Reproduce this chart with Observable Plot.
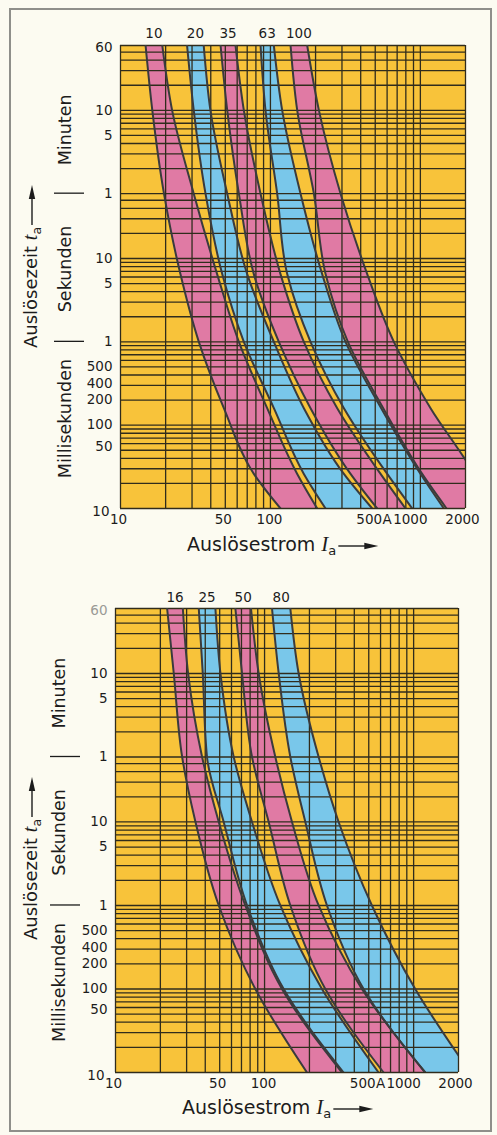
<!DOCTYPE html>
<html><head><meta charset="utf-8">
<script src="https://cdn.jsdelivr.net/npm/d3@7"></script>
<script src="https://cdn.jsdelivr.net/npm/@observablehq/plot@0.6"></script>
<style>
html,body{margin:0;padding:0;background:#fcfbf1;}
#page{position:relative;width:497px;height:1135px;overflow:hidden;background:#fcfbf1;}
#frame{position:absolute;left:9px;top:8px;width:479px;height:1120px;border:2px solid #8f8f8a;}
#p1{position:absolute;left:0;top:0;}
#p2{position:absolute;left:0;top:575px;}
svg{display:block;}
</style></head>
<body><div id="page"><div id="frame"></div><div id="p1"></div><div id="p2"></div></div>
<script>
// ---------- data ----------
const xGrid = [10,20,30,40,50,60,70,80,90,100,200,300,400,500,600,700,800,900,1000,2000];
const yGrid = [0.01,0.02,0.03,0.04,0.05,0.06,0.07,0.08,0.09,0.1,0.2,0.3,0.4,0.5,0.6,0.7,0.8,0.9,
  1,2,3,4,5,6,7,8,9,10,20,30,40,50,60,120,180,240,300,360,420,480,540,600,1200,1800,2400,3000,3600];

const xTickValues = [10, 50, 100, 500, 1000, 2000];
const xTickLabels = ["10", "50", "100", "500", "1000", "2000"];
const yTickValues = [3600, 600, 300, 60, 10, 5, 1, 0.5, 0.4, 0.2, 0.1, 0.05, 0.01];
const yTickLabels = ["60", "10", "5", "1", "10", "5", "1", "500", "400", "200", "100", "50", "10"];
const sectionNames = ["Minuten", "Sekunden", "Millisekunden"];
const sectionCenters = [350, 7.5, 0.12];
const sectionBounds = [60, 1];

// top panel: trip time levels (s) and band edges (A)
const tTop = [3600, 600, 60, 6.5, 1, 0.16, 0.026, 0.01];
const top10Lo  = [14.7, 16.3, 19.5, 25.1, 33.3, 48.9, 77.5, 116.7];
const top10Hi  = [19.0, 22.1, 30.8, 44.1, 61.6, 95.1, 150.9, 205.2];
const top20Lo  = [27.8, 30.8, 36.9, 47.7, 66.5, 105.4, 167.1, 233.2];
const top20Hi  = [35.9, 39.8, 51.5, 70.0, 105.4, 167.1, 309.0, 477.4];
const top35Lo  = [46.5, 51.5, 61.6, 77.5, 113.8, 185.1, 342.3, 515.3];
const top35Hi  = [58.5, 66.5, 85.9, 116.7, 167.1, 278.9, 542.6, 796.6];
const top63Lo  = [85.9, 92.7, 110.9, 129.4, 185.1, 309.0, 601.1, 882.5];
const top63Hi  = [105.4, 119.8, 158.8, 221.4, 316.9, 548, 1003, 1436];
const top100Lo = [136.2, 150.9, 194.9, 233.2, 328.6, 565.3, 1028, 1495];
const top100Hi = [175.9, 210.6, 293.6, 442.2, 666.0, 1169.5, 2276, 2940];
const topRatings = ["10", "20", "35", "63", "100"];

// bottom panel
const tBot = [3600, 600, 60, 10, 1, 0.1, 0.01];
const bot16Lo = [22.2, 24.6, 28.0, 34.4, 49.3, 86.7, 192.6];
const bot16Hi = [28.3, 30.7, 38.1, 49.3, 74.3, 130.9, 330.4];
const bot25Lo = [36.2, 38.5, 41.1, 53.2, 76.3, 134.4, 339];
const bot25Hi = [46.8, 50.6, 62.1, 82.4, 127.6, 242.7, 582];
const bot50Lo = [63.7, 70.6, 82.4, 106.6, 148.9, 255.6, 628.6];
const bot50Hi = [81.1, 91.3, 118.1, 152.8, 230.6, 450, 1196];
const bot80Lo = [112.2, 124.4, 148.9, 187.7, 262.2, 461.7, 1196];
const bot80Hi = [148.9, 169.3, 230.6, 314, 525, 1025, 2395];
const botRatings = ["16", "25", "50", "80"];

// ---------- style ----------
const PINK = "#e07aa4", BLUE = "#79c7ea", YELLOW = "#f8c33a";
const GRID = "#302c1c", EDGE = "#3a3b3d", TEXT = "#1c1c1c";
const FONT = "DejaVu Sans", SERIF = "Liberation Serif";

const xTicks = xTickValues.map((v, i) => ({v, label: xTickLabels[i]}));
const yTicks = yTickValues.map((v, i) => ({v, label: yTickLabels[i]}));
const sections = sectionNames.map((name, i) => ({name, t: sectionCenters[i]}));

function rows(ts, lo, hi) { return ts.map((t, i) => ({t, lo: lo[i], hi: hi[i]})); }

function makePanel(o) {
  const bands = o.bands;
  const marks = [Plot.frame({fill: YELLOW, stroke: null})];
  for (const b of bands) marks.push(Plot.areaX(rows(o.ts, b.lo, b.hi), {y: "t", x1: "lo", x2: "hi", fill: b.color, curve: "monotone-y", clip: true}));
  marks.push(Plot.ruleX(xGrid, {stroke: GRID, strokeWidth: 1.3}));
  marks.push(Plot.ruleY(yGrid, {stroke: GRID, strokeWidth: 1.3}));
  for (const b of bands) {
    const r = rows(o.ts, b.lo, b.hi);
    marks.push(Plot.lineX(r, {y: "t", x: "lo", curve: "monotone-y", stroke: EDGE, strokeWidth: 2, clip: true}));
    marks.push(Plot.lineX(r, {y: "t", x: "hi", curve: "monotone-y", stroke: EDGE, strokeWidth: 2, clip: true}));
  }
  const tx = {fontFamily: FONT, fill: TEXT, fontSize: 13.5};
  // band rating labels
  marks.push(Plot.text(bands, {x: b => Math.sqrt(b.lo[0] * b.hi[0]), y: o.ts[0], text: "label", dy: o.labelDy, ...tx, fontSize: 13.5}));
  // y tick labels
  const yNormal = yTicks.filter(d => d.v !== 0.4 && d.v !== 0.01 && d.v !== 0.05 && d.v !== 3600);
  marks.push(Plot.text(yNormal, {y: "v", text: "label", frameAnchor: "left", dx: -8, textAnchor: "end", ...tx}));
  marks.push(Plot.text(yTicks.filter(d => d.v === 3600), {y: "v", text: "label", frameAnchor: "left", dx: -8, dy: 2, textAnchor: "end", ...tx, fill: o.sixtyColor}));
  marks.push(Plot.text(yTicks.filter(d => d.v === 0.4), {y: "v", text: "label", frameAnchor: "left", dx: -8, dy: 9, textAnchor: "end", ...tx}));
  marks.push(Plot.text(yTicks.filter(d => d.v === 0.05), {y: "v", text: "label", frameAnchor: "left", dx: -8, dy: -4, textAnchor: "end", ...tx}));
  marks.push(Plot.text(yTicks.filter(d => d.v === 0.01), {y: "v", text: "label", frameAnchor: "left", dx: -11, dy: 3, textAnchor: "end", ...tx}));
  // x tick labels
  const xOff = {500: -6, 1000: -10, 2000: -3, 50: -2, 10: -2, 100: -1};
  for (const d of xTicks) marks.push(Plot.text([d], {x: "v", text: "label", frameAnchor: "bottom", dy: 15, dx: xOff[d.v] || 0, ...tx}));
  marks.push(Plot.text(["A"], {x: 600, text: d => d, frameAnchor: "bottom", dy: 15, ...tx}));
  // section labels
  marks.push(Plot.text(sections, {y: "t", text: "name", frameAnchor: "left", textAnchor: "middle", dx: o.secDx, rotate: -90, fontFamily: FONT, fill: TEXT, fontSize: 17.5}));

  const svg = Plot.plot({
    width: 497, height: o.height,
    marginLeft: o.mL, marginRight: o.mR, marginTop: o.mT, marginBottom: o.mB,
    x: {type: "log", domain: [10, 2000], axis: null},
    y: {type: "log", domain: [0.01, 3600], axis: null},
    style: {background: "transparent", overflow: "visible"},
    marks
  });
  document.getElementById(o.host).appendChild(svg);

  // titles, arrows and section separators
  const s = d3.select(svg);
  const ys = svg.scale("y");
  for (const v of sectionBounds) {
    s.append("line").attr("x1", o.sepX[0]).attr("x2", o.sepX[1])
      .attr("y1", ys.apply(v)).attr("y2", ys.apply(v))
      .attr("stroke", TEXT).attr("stroke-width", 1.3);
  }
  // x title
  const xt = s.append("text").attr("x", o.xTitle[0]).attr("y", o.xTitle[1]).attr("text-anchor", "start")
    .attr("font-family", FONT).attr("font-size", 19).attr("fill", TEXT);
  xt.append("tspan").text("Auslösestrom ");
  xt.append("tspan").attr("font-family", SERIF).attr("font-style", "italic").attr("font-size", 21).text("I");
  xt.append("tspan").attr("font-size", 13).attr("dy", 4).text("a");
  const xl = xt.node().getComputedTextLength();
  const ax0 = o.xTitle[0] + xl + 2, ay = o.xTitle[1] - 5;
  s.append("line").attr("x1", ax0).attr("x2", ax0 + 28).attr("y1", ay).attr("y2", ay).attr("stroke", TEXT).attr("stroke-width", 1.4);
  s.append("path").attr("d", `M${ax0 + 26},${ay - 3.2}L${ax0 + 40},${ay}L${ax0 + 26},${ay + 3.2}Z`).attr("fill", TEXT);
  // y title
  const g = s.append("g").attr("transform", `translate(${o.yTitle[0]},${o.yTitle[1]}) rotate(-90)`);
  const yt = g.append("text").attr("x", 0).attr("y", 0).attr("text-anchor", "start").attr("font-family", FONT).attr("font-size", 18).attr("fill", TEXT);
  yt.append("tspan").text("Auslösezeit ");
  yt.append("tspan").attr("font-family", SERIF).attr("font-style", "italic").attr("font-size", 20).text("t");
  yt.append("tspan").attr("font-size", 12.5).attr("dy", 4).text("a");
  const yl = yt.node().getComputedTextLength();
  const b0 = yl + 2;
  g.append("line").attr("x1", b0).attr("x2", b0 + 28).attr("y1", -5).attr("y2", -5).attr("stroke", TEXT).attr("stroke-width", 1.4);
  g.append("path").attr("d", `M${b0 + 26},${-8.2}L${b0 + 40},-5L${b0 + 26},${-1.8}Z`).attr("fill", TEXT);
}

makePanel({
  host: "p1", height: 575, mL: 120, mR: 32, mT: 45, mB: 67, ts: tTop,
  bands: [
    {label: topRatings[0], color: PINK, lo: top10Lo, hi: top10Hi},
    {label: topRatings[1], color: BLUE, lo: top20Lo, hi: top20Hi},
    {label: topRatings[2], color: PINK, lo: top35Lo, hi: top35Hi},
    {label: topRatings[3], color: BLUE, lo: top63Lo, hi: top63Hi},
    {label: topRatings[4], color: PINK, lo: top100Lo, hi: top100Hi}
  ],
  labelDy: -12, sixtyColor: TEXT, secDx: -55, sepX: [54, 84],
  xTitle: [187, 551], yTitle: [37, 348]
});

makePanel({
  host: "p2", height: 560, mL: 115, mR: 39, mT: 33, mB: 63, ts: tBot,
  bands: [
    {label: botRatings[0], color: PINK, lo: bot16Lo, hi: bot16Hi},
    {label: botRatings[1], color: BLUE, lo: bot25Lo, hi: bot25Hi},
    {label: botRatings[2], color: PINK, lo: bot50Lo, hi: bot50Hi},
    {label: botRatings[3], color: BLUE, lo: bot80Lo, hi: bot80Hi}
  ],
  labelDy: -11, sixtyColor: "#9a9a96", secDx: -56, sepX: [50, 80],
  xTitle: [182, 539], yTitle: [37, 365]
});
</script></body></html>
